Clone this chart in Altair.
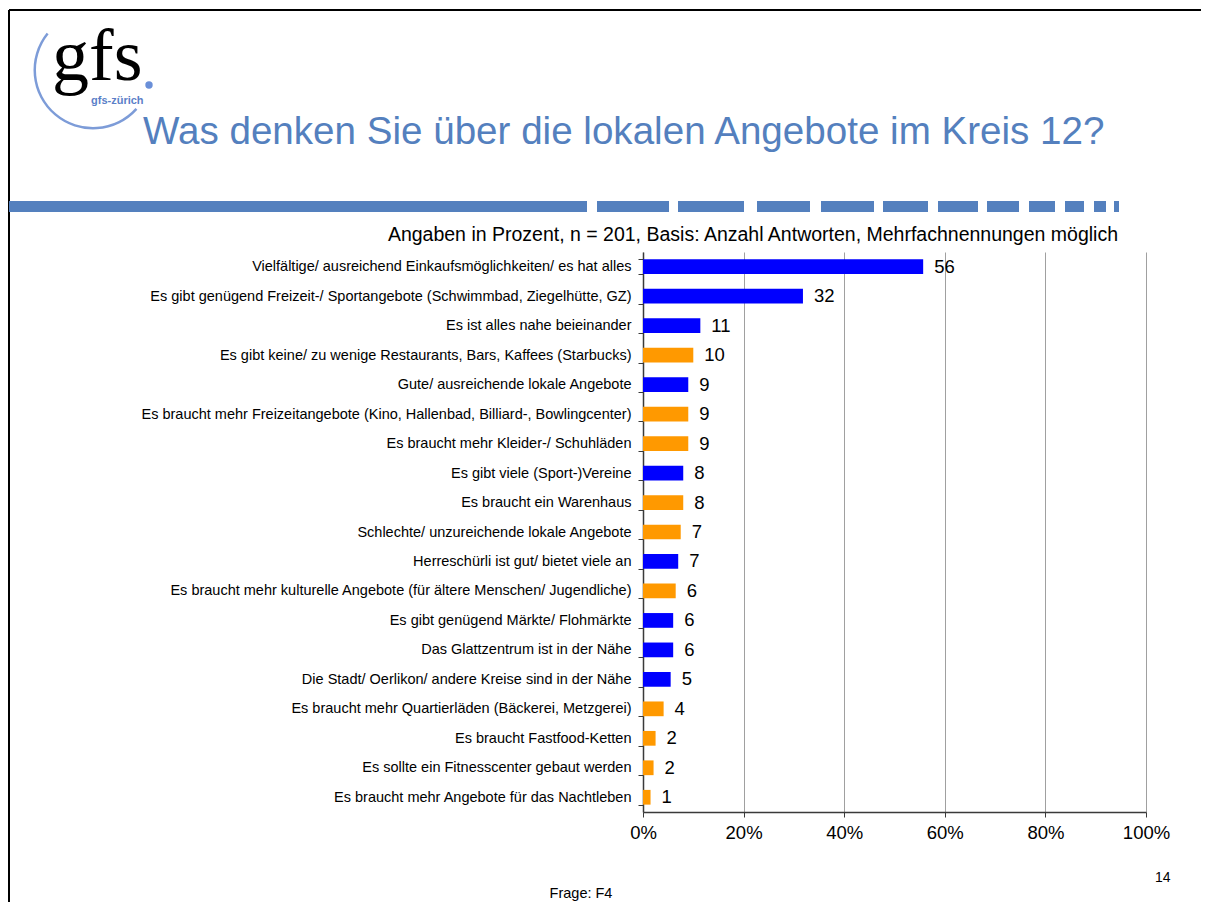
import altair as alt
import pandas as pd

categories = [
    "Vielfältige/ ausreichend Einkaufsmöglichkeiten/ es hat alles",
    "Es gibt genügend Freizeit-/ Sportangebote (Schwimmbad, Ziegelhütte, GZ)",
    "Es ist alles nahe beieinander",
    "Es gibt keine/ zu wenige Restaurants, Bars, Kaffees (Starbucks)",
    "Gute/ ausreichende lokale Angebote",
    "Es braucht mehr Freizeitangebote (Kino, Hallenbad, Billiard-, Bowlingcenter)",
    "Es braucht mehr Kleider-/ Schuhläden",
    "Es gibt viele (Sport-)Vereine",
    "Es braucht ein Warenhaus",
    "Schlechte/ unzureichende lokale Angebote",
    "Herreschürli ist gut/ bietet viele an",
    "Es braucht mehr kulturelle Angebote (für ältere Menschen/ Jugendliche)",
    "Es gibt genügend Märkte/ Flohmärkte",
    "Das Glattzentrum ist in der Nähe",
    "Die Stadt/ Oerlikon/ andere Kreise sind in der Nähe",
    "Es braucht mehr Quartierläden (Bäckerei, Metzgerei)",
    "Es braucht Fastfood-Ketten",
    "Es sollte ein Fitnesscenter gebaut werden",
    "Es braucht mehr Angebote für das Nachtleben",
]
values = [55.7, 31.8, 11.4, 10.0, 9.0, 9.0, 9.0, 8.0, 8.0, 7.5, 7.0, 6.5, 6.0, 6.0, 5.5, 4.1, 2.5, 2.1, 1.5]
labels = [56, 32, 11, 10, 9, 9, 9, 8, 8, 7, 7, 6, 6, 6, 5, 4, 2, 2, 1]
kinds = ["positiv", "positiv", "positiv", "negativ", "positiv", "negativ", "negativ", "positiv", "negativ",
         "negativ", "positiv", "negativ", "positiv", "positiv", "positiv", "negativ", "negativ", "negativ", "negativ"]
x_ticks = [0, 20, 40, 60, 80, 100]

title_text = "Was denken Sie über die lokalen Angebote im Kreis 12?"
subtitle_text = "Angaben in Prozent, n = 201, Basis: Anzahl Antworten, Mehrfachnennungen möglich"
logo_text = "gfs"
logo_sub = "gfs-zürich"
page_no = "14"
question = "Frage: F4"

df = pd.DataFrame({"cat": categories, "val": values, "lab": labels, "kind": kinds})

BLUE_T = "#5480BE"
FONT = "Liberation Sans"

y_enc = alt.Y("cat:N", sort=categories,
              scale=alt.Scale(paddingInner=0.5, paddingOuter=0.25),
              axis=alt.Axis(title=None, tickBand="extent", tickSize=5, labelPadding=7,
                            labelFontSize=14.5, labelFont=FONT, labelColor="black", labelLimit=620,
                            domainColor="#3a3a3a", domainWidth=1.5, tickColor="#3a3a3a", grid=False))
x_enc = alt.X("val:Q", scale=alt.Scale(domain=[0, 100], nice=False),
              axis=alt.Axis(title=None, values=x_ticks, labelExpr="datum.value + '%'",
                            grid=True, gridColor="#A0A0A0", gridWidth=1,
                            domainColor="#3a3a3a", domainWidth=1.5, tickColor="#3a3a3a", tickSize=5,
                            labelFontSize=18.5, labelFont=FONT, labelColor="black", labelPadding=6,
                            labelFlush=False))

bars = alt.Chart(df).mark_bar().encode(
    y=y_enc, x=x_enc,
    color=alt.Color("kind:N", scale=alt.Scale(domain=["positiv", "negativ"], range=["#0000FF", "#FF9900"]),
                    legend=None),
)
vals = alt.Chart(df).mark_text(align="left", baseline="middle", dx=11, fontSize=18.5, font=FONT,
                               color="black").encode(y=alt.Y("cat:N", sort=categories), x="val:Q",
                                                     text="lab:N")

one = pd.DataFrame({"k": [0]})

def txt(s, x, y, size, color="black", align="left", font=FONT, weight="normal"):
    return alt.Chart(pd.DataFrame({"t": [s]})).mark_text(
        align=align, baseline="alphabetic", fontSize=size, font=font, color=color, fontWeight=weight
    ).encode(text="t:N", x=alt.value(x), y=alt.value(y))

border_left = alt.Chart(one).mark_rule(color="black", strokeWidth=2).encode(
    x=alt.value(-634), y=alt.value(-242), y2=alt.value(650))
border_top = alt.Chart(one).mark_rule(color="black", strokeWidth=2).encode(
    x=alt.value(-634), x2=alt.value(558), y=alt.value(-242))
dash_bar = alt.Chart(one).mark_rule(
    color=BLUE_T, strokeWidth=11, strokeCap="butt",
    strokeDash=[578, 10, 72, 9, 66, 13, 53, 11, 53, 9, 45, 10, 40, 9, 32, 10, 26, 10, 19, 10, 12, 8, 5, 60],
).encode(x=alt.value(-634), x2=alt.value(476), y=alt.value(-45.5))

arc = alt.Chart(one).mark_arc(color="#7D9CD8").encode(
    x=alt.value(-550), y=alt.value(-182), radius=alt.value(59.5), radius2=alt.value(57),
    theta=alt.value(2.30), theta2=alt.value(5.39))
dot = alt.Chart(one).mark_circle(color="#6A8FD8", opacity=1, size=55).encode(
    x=alt.value(-494), y=alt.value(-167))

layers = [
    border_left, border_top, dash_bar, arc,
    txt(logo_text, -591, -172, 74, "black", font="Liberation Serif"),
    dot,
    txt(logo_sub, -552, -148, 11, "#5B7FC8", weight="bold"),
    txt(title_text, -500, -108, 38.6, BLUE_T),
    txt(subtitle_text, 475, -11, 19.5, "black", align="right"),
    txt(page_no, 512, 630, 14),
    txt(question, -62, 646, 14.5, align="center"),
    bars, vals,
]

chart = alt.layer(*layers).properties(
    width=503, height=560,
    autosize=alt.AutoSizeParams(type="none"),
    padding={"left": 635, "top": 244, "right": 55, "bottom": 90},
).configure_view(stroke=None)

chart.save("out.html", embed_options={"renderer": "svg", "actions": False})
